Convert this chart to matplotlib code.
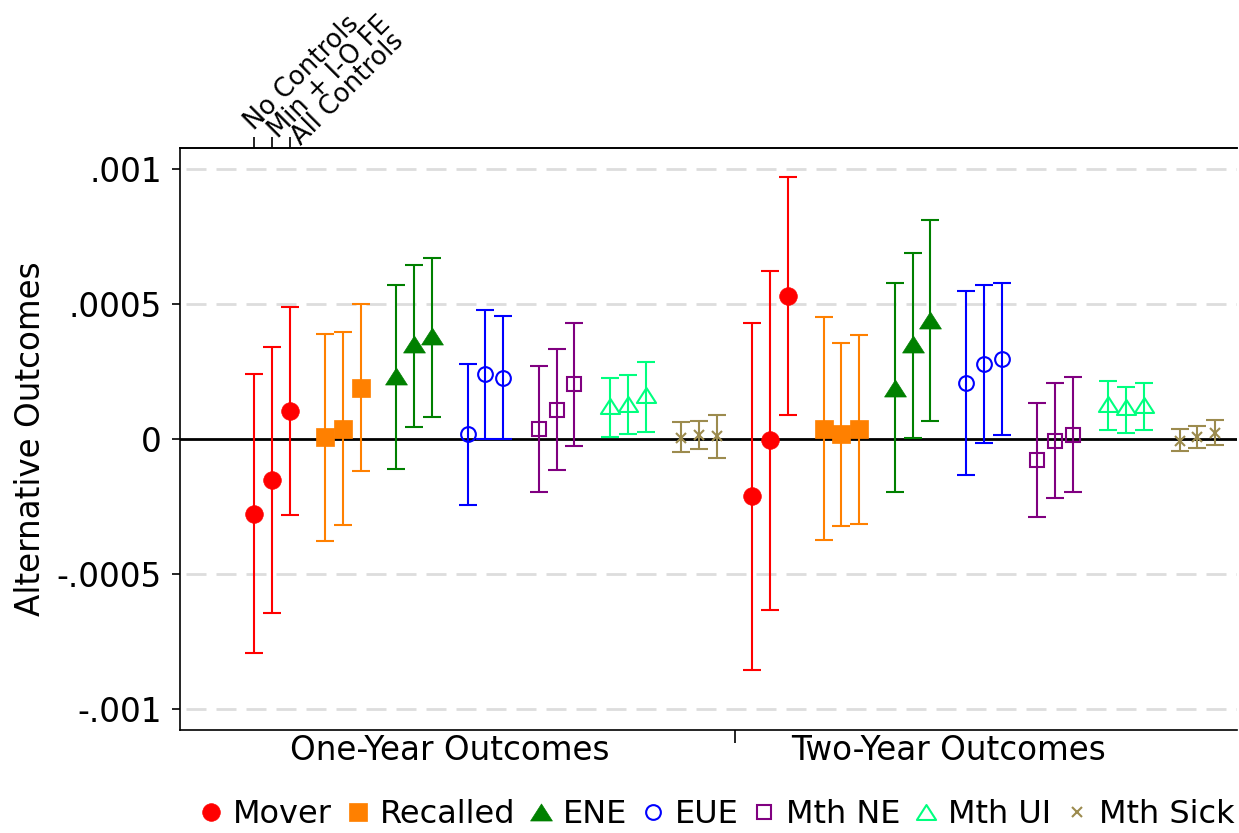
import matplotlib
matplotlib.use("Agg")
import matplotlib.pyplot as plt
from matplotlib.path import Path
from matplotlib.ticker import FixedLocator
from matplotlib.transforms import blended_transform_factory, ScaledTranslation
import numpy as np

# ---------------- data ----------------
year_groups = ["One-Year Outcomes", "Two-Year Outcomes"]
control_labels = ["No Controls", "Min + I-O FE", "All Controls"]
series_names = ["Mover", "Recalled", "ENE", "EUE", "Mth NE", "Mth UI", "Mth Sick"]
ytick_vals = [-0.001, -0.0005, 0, 0.0005, 0.001]
ytick_labels = ["-.001", "-.0005", "0", ".0005", ".001"]

# each list: one-year (no controls, min+IO FE, all controls), two-year (same)
mover_coef = [-0.000277, -0.000152, 0.000104, -0.000212, -0.000005, 0.000529]
mover_lo = [-0.000792, -0.000644, -0.000281, -0.000855, -0.000634, 0.0000896]
mover_hi = [0.000240, 0.000342, 0.000490, 0.000430, 0.000622, 0.000971]

recalled_coef = [0.0000065, 0.000036, 0.000188, 0.000039, 0.000017, 0.000036]
recalled_lo = [-0.000377, -0.000319, -0.000118, -0.000375, -0.000323, -0.000316]
recalled_hi = [0.000390, 0.000395, 0.000499, 0.000453, 0.000356, 0.000387]

ene_coef = [0.000234, 0.000351, 0.000381, 0.000188, 0.000351, 0.000442]
ene_lo = [-0.000112, 0.000044, 0.000082, -0.000197, 0.000004, 0.000066]
ene_hi = [0.000570, 0.000644, 0.000670, 0.000578, 0.000688, 0.000813]

eue_coef = [0.000017, 0.000240, 0.000227, 0.000208, 0.000279, 0.000296]
eue_lo = [-0.000245, 0.000000, 0.000000, -0.000135, -0.000013, 0.000015]
eue_hi = [0.000277, 0.000477, 0.000454, 0.000548, 0.000571, 0.000579]

ne_coef = [0.000037, 0.000109, 0.000202, -0.000078, -0.000006, 0.000015]
ne_lo = [-0.000198, -0.000116, -0.000027, -0.000289, -0.000220, -0.000198]
ne_hi = [0.000270, 0.000332, 0.000430, 0.000135, 0.000206, 0.000228]

ui_coef = [0.000121, 0.000130, 0.000163, 0.000130, 0.000120, 0.000126]
ui_lo = [0.0000086, 0.000017, 0.000027, 0.000033, 0.000023, 0.000032]
ui_hi = [0.000225, 0.000236, 0.000284, 0.000215, 0.000194, 0.000206]

sick_coef = [0.000005, 0.000015, 0.000011, -0.000006, 0.000006, 0.000023]
sick_lo = [-0.000049, -0.000038, -0.000069, -0.000046, -0.000035, -0.000022]
sick_hi = [0.000064, 0.000068, 0.000088, 0.000037, 0.000048, 0.000072]

coefs = [mover_coef, recalled_coef, ene_coef, eue_coef, ne_coef, ui_coef, sick_coef]
los = [mover_lo, recalled_lo, ene_lo, eue_lo, ne_lo, ui_lo, sick_lo]
his = [mover_hi, recalled_hi, ene_hi, eue_hi, ne_hi, ui_hi, sick_hi]

# ---------------- styles ----------------
colors = ["#FF0000", "#FF8000", "#008000", "#0000FF", "#800080", "#00FF7F", "#9C8B4E"]
tri = Path([(-1, -0.78), (1, -0.78), (0, 0.78), (-1, -0.78)],
           [Path.MOVETO, Path.LINETO, Path.LINETO, Path.CLOSEPOLY])
markers = ["o", "s", tri, "o", "s", tri, "x"]
msizes = [12.7, 12.7, 15.7, 10.6, 10.5, 13.8, 6.5]
filled = [True, True, True, False, False, False, True]

FS = 23.5
plt.rcParams['font.family'] = ['DejaVu Sans']
fig = plt.figure(figsize=(12.39, 8.33), dpi=100)
ax = fig.add_axes([0.1453, 0.1236, 0.8530, 0.6987])

n_ctrl = 3
step_series = 4
step_year = 28
for k in range(len(series_names)):
    c = np.array(coefs[k])
    lo = np.array(los[k])
    hi = np.array(his[k])
    pos = np.array([y * step_year + k * step_series + j
                    for y in range(2) for j in range(n_ctrl)], dtype=float)
    fc = colors[k] if filled[k] else "none"
    ax.errorbar(pos, c, yerr=[c - lo, hi - c], fmt="none", ecolor=colors[k],
                elinewidth=1.5, capsize=6.3, capthick=1.5, zorder=3)
    ax.plot(pos, c, linestyle="none", marker=markers[k], markersize=msizes[k],
            markerfacecolor=fc, markeredgecolor=colors[k],
            markeredgewidth=(1.5 if not filled[k] or markers[k] == "x" else 0.5),
            color=colors[k], zorder=4, label=series_names[k])

ax.axhline(0, color="black", lw=2.0, zorder=2)
for v in [-0.001, -0.0005, 0.0005, 0.001]:
    ax.axhline(v, xmin=0.006, color="#DDDDDD", lw=2.0, dashes=(7.2, 3.6), zorder=1)

ax.set_ylim(-0.0010778, 0.0010778)
ax.set_xlim(-4.157, 55.22)
ax.set_yticks(ytick_vals)
ax.set_yticklabels(ytick_labels)
ax.tick_params(axis="y", labelsize=FS, length=6, width=1.2, pad=7)
ax.set_ylabel("Alternative Outcomes", fontsize=FS, labelpad=7)

ax.xaxis.set_major_locator(FixedLocator([11, 11 + step_year]))
ax.set_xticklabels(year_groups)
ax.xaxis.set_minor_locator(FixedLocator([step_year - 1]))
ax.tick_params(axis="x", which="major", labelsize=FS, length=0, pad=3)
ax.tick_params(axis="x", which="minor", length=9, width=1.2)

for s in ["left", "bottom", "top"]:
    ax.spines[s].set_linewidth(1.2)
ax.spines["right"].set_visible(False)

sec = ax.secondary_xaxis("top")
sec.set_xticks([0, 1, 2])
sec.set_xticklabels(["", "", ""])
sec.tick_params(axis="x", length=8, width=1.2)
sec.spines["top"].set_linewidth(1.2)

blend = blended_transform_factory(ax.transData, ax.transAxes)
for j, lab in enumerate(control_labels):
    off = ScaledTranslation((0 + 5.7 * j) / 100, (17 - 7.5 * j) / 100, fig.dpi_scale_trans)
    ax.text(j, 1, lab, transform=blend + off, rotation=45, rotation_mode="anchor",
            ha="left", va="baseline", fontsize=18.5, clip_on=False)

leg = fig.legend(loc="center left", bbox_to_anchor=(0.1625, 0.0225), ncol=7, frameon=False,
                 fontsize=23, handlelength=0.6, handletextpad=0.39,
                 columnspacing=0.5, borderaxespad=0, borderpad=0)

fig.savefig("out.png", dpi=100)
